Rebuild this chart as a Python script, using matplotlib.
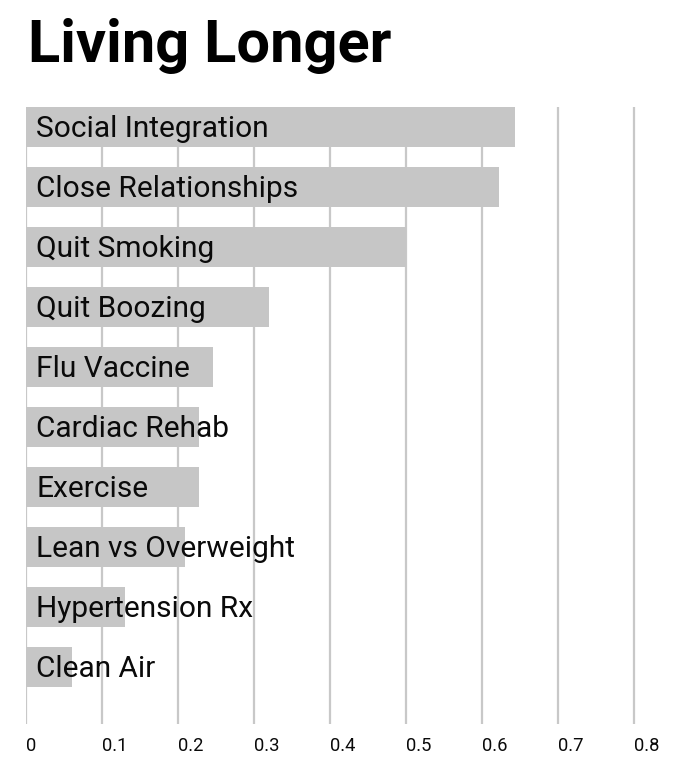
import matplotlib
matplotlib.use("Agg")
import matplotlib.pyplot as plt

categories = ["Social Integration", "Close Relationships", "Quit Smoking", "Quit Boozing",
              "Flu Vaccine", "Cardiac Rehab", "Exercise", "Lean vs Overweight",
              "Hypertension Rx", "Clean Air"]
values = [0.643, 0.622, 0.50, 0.320, 0.246, 0.228, 0.228, 0.209, 0.130, 0.061]
xticks = [0, 0.1, 0.2, 0.3, 0.4, 0.5, 0.6, 0.7, 0.8]
xtick_labels = ["0", "0.1", "0.2", "0.3", "0.4", "0.5", "0.6", "0.7", "0.8"]
title = "Living Longer"

W, H = 683, 766
fig = plt.figure(figsize=(W / 100, H / 100), dpi=100)
fig.patch.set_facecolor("white")

xmax = 0.85
px_per_unit = 760.0
left_px, top_px, bottom_px = 26, 107, 724
ax = fig.add_axes([left_px / W, (H - bottom_px) / H, xmax * px_per_unit / W, (bottom_px - top_px) / H])

bar_h = 0.667
ypos = list(range(len(categories)))
ax.barh(ypos, values, height=bar_h, color="#c6c6c6", zorder=2)
ax.set_xlim(0, xmax)
ax.set_ylim(9.95, -bar_h / 2)

for x in xticks:
    ax.axvline(x, color="#c8c8c8", lw=1.6, zorder=1)

for y, cat in zip(ypos, categories):
    ax.text(0.0135, y + 0.16, cat, fontsize=21.5, family="Roboto", color="#0a0a0a",
            va="baseline", ha="left", zorder=3)

for x, lab in zip(xticks, xtick_labels):
    ax.text(x, -0.021, lab, transform=ax.get_xaxis_transform(), fontsize=13.2,
            family="Roboto", color="#0a0a0a", ha="left", va="top")

ax.set_xticks([])
ax.set_yticks([])
for s in ax.spines.values():
    s.set_visible(False)
ax.patch.set_alpha(0)

fig.text(28 / W, 1 - 62 / H, title, fontsize=42.8, fontweight="bold", family="Roboto",
         color="black", ha="left", va="baseline")

fig.savefig("out.png", dpi=100)
